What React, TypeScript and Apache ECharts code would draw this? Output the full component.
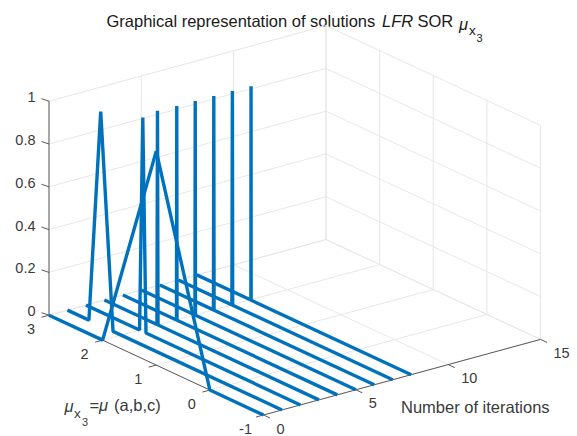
import React, { useEffect, useRef } from "react";
import * as echarts from "echarts";

const W = 577;
const H = 436;

// data
const iterations = [0, 1, 2, 3, 4, 5, 6, 7, 8];
const leftFoot = [2, 2.6, 2.0, 2.02, 2.0, 2.0, 2.0, 2.0, 1.99];
const peak = [1, 2.38, 1.94, 2.01, 1.995, 1.995, 1.993, 1.991, 1.987];
const rightFoot = [0, 2.15, 1.88, 2.0, 1.99, 1.99, 1.988, 1.985, 1.985];

const xTicks = [0, 5, 10, 15];
const yTicks = [-1, 0, 1, 2, 3];
const zTicks = [0, 0.2, 0.4, 0.6, 0.8, 1];
const zTickLabels = ["0", "0.2", "0.4", "0.6", "0.8", "1"];

// orthographic projection of the 3-D box onto the page
const O = [49, 315.2];
const EX = [277 / 15, -75.6 / 15];
const EY = [214.5 / 4, 99.8 / 4];
const EZ = -214;

type V = [number, number];
const proj = (x: number, y: number, z: number): V => [
  O[0] + EX[0] * x + EY[0] * (3 - y),
  O[1] + EX[1] * x + EY[1] * (3 - y) + EZ * z,
];

const FONT = "'Liberation Sans', Arial, sans-serif";
const GRID = "#e7e7e7";
const AXIS = "#5a5a5a";
const TEXT = "#3a3a3a";
const DARK = "#1a1a1a";
const BLUE = "#0072BD";

const seg = (coords: V[], color: string, width: number, name?: string, join = "round") => ({
  type: "line",
  name,
  data: coords,
  symbol: "none",
  smooth: false,
  clip: false,
  silent: true,
  lineStyle: { color, width, cap: "butt", join, opacity: 1 },
});

const gridSegments: [V, V][] = [
  // floor
  ...xTicks.map((x): [V, V] => [proj(x, -1, 0), proj(x, 3, 0)]),
  ...yTicks.map((y): [V, V] => [proj(0, y, 0), proj(15, y, 0)]),
  // wall at mu = 3
  ...xTicks.map((x): [V, V] => [proj(x, 3, 0), proj(x, 3, 1)]),
  ...zTicks.map((z): [V, V] => [proj(0, 3, z), proj(15, 3, z)]),
  // wall at iteration = 15
  ...yTicks.map((y): [V, V] => [proj(15, y, 0), proj(15, y, 1)]),
  ...zTicks.map((z): [V, V] => [proj(15, 3, z), proj(15, -1, z)]),
];

const off = (p: V, dx: number, dy: number): V => [p[0] + dx, p[1] + dy];

const axisSegments: [V, V][] = [
  [proj(0, 3, 0), proj(0, 3, 1)],
  [proj(0, 3, 0), proj(0, -1, 0)],
  [proj(0, -1, 0), proj(15, -1, 0)],
  ...zTicks.map((z): [V, V] => [proj(0, 3, z), off(proj(0, 3, z), -7.5, -2.5)]),
  ...yTicks.map((y): [V, V] => [proj(0, y, 0), off(proj(0, y, 0), -7.5, 2)]),
  ...xTicks.map((x): [V, V] => [proj(x, -1, 0), off(proj(x, -1, 0), 6.5, 3)]),
];

const curves = iterations.map((it, i): V[] => [
  proj(it, 3, 0),
  proj(it, leftFoot[i], 0),
  proj(it, peak[i], 1),
  proj(it, rightFoot[i], 0),
  proj(it, -1, 0),
]);

type Lab = {
  p: V;
  text: string;
  align?: string;
  size?: number;
  style?: string;
  color?: string;
};

const labels: Lab[] = [
  ...zTicks.map((z, i): Lab => ({ p: off(proj(0, 3, z), -13.5, -4), text: zTickLabels[i], align: "right" })),
  ...yTicks.map((y): Lab => ({ p: off(proj(0, y, 0), -18, 14), text: String(y), align: "center" })),
  ...xTicks.map((x): Lab => ({ p: off(proj(x, -1, 0), 13, 13.5), text: String(x), align: "left" })),
  { p: [401, 407], text: "Number of iterations", align: "left", size: 16.5 },
  { p: [64.5, 406], text: "μ", style: "italic", align: "left", size: 16.5 },
  { p: [74, 413], text: "x", align: "left", size: 13.5 },
  { p: [82, 422], text: "3", align: "left", size: 11 },
  { p: [89.5, 405], text: "=", align: "left", size: 16.5 },
  { p: [99, 405], text: "μ", style: "italic", align: "left", size: 16.5 },
  { p: [114, 405], text: "(a,b,c)", align: "left", size: 16.5 },
  { p: [106.5, 21], text: "Graphical representation of solutions", align: "left", size: 16.5, color: DARK },
  { p: [382, 21], text: "LFR", style: "italic", align: "left", size: 16.5, color: DARK },
  { p: [417.5, 21], text: "SOR", align: "left", size: 16.5, color: DARK },
  { p: [459, 24], text: "μ", style: "italic", align: "left", size: 16.5, color: DARK },
  { p: [469, 30], text: "x", align: "left", size: 13.5, color: DARK },
  { p: [476.5, 38], text: "3", align: "left", size: 11, color: DARK },
];

export default function App() {
  const ref = useRef<HTMLDivElement>(null);
  useEffect(() => {
    document.body.style.margin = "0";
    const chart = echarts.init(ref.current!, undefined, { renderer: "svg" });
    chart.setOption({
      animation: false,
      backgroundColor: "#ffffff",
      grid: { left: 0, right: 0, top: 0, bottom: 0 },
      xAxis: { type: "value", min: 0, max: W, show: false },
      yAxis: { type: "value", min: 0, max: H, inverse: true, show: false },
      series: [
        ...gridSegments.map((s) => seg(s, GRID, 1)),
        ...axisSegments.map((s) => seg(s, AXIS, 1)),
        ...curves.map((c, i) => seg(c, BLUE, 3.4, `iteration ${iterations[i]}`, "bevel")),
        {
          type: "custom",
          clip: false,
          silent: true,
          data: labels.map((l) => l.p),
          encode: { x: 0, y: 1 },
          renderItem: (params: any, api: any) => {
            const l = labels[params.dataIndex];
            const pt = api.coord([api.value(0), api.value(1)]);
            return {
              type: "text",
              x: pt[0],
              y: pt[1],
              style: {
                text: l.text,
                fill: l.color ?? TEXT,
                fontFamily: FONT,
                fontSize: l.size ?? 14.5,
                fontStyle: l.style ?? "normal",
                align: l.align ?? "left",
                verticalAlign: "middle",
              },
            };
          },
        },
      ],
    });
    return () => chart.dispose();
  }, []);
  return <div ref={ref} style={{ width: W, height: H }} />;
}
